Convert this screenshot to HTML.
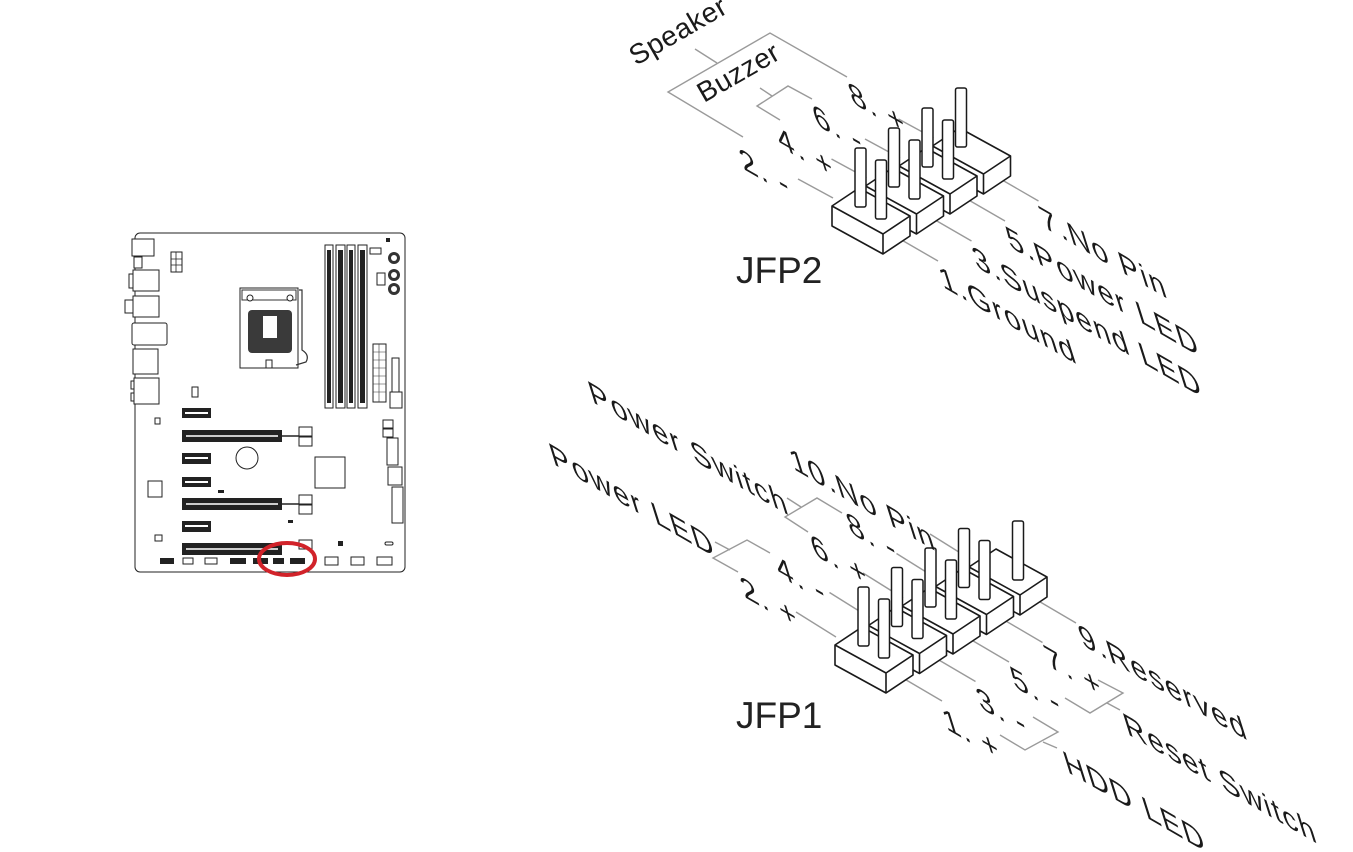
<!DOCTYPE html>
<html><head><meta charset="utf-8"><style>
html,body{margin:0;padding:0;background:#fff;}
svg{display:block;}
.t{font-family:"Liberation Sans",Arial,sans-serif;font-size:34px;letter-spacing:2px;fill:#1a1a1a;}
.s{font-family:"Liberation Sans",Arial,sans-serif;font-size:28px;letter-spacing:0.5px;fill:#1a1a1a;}
.h{font-family:"Liberation Sans",Arial,sans-serif;font-size:37px;fill:#222;}
.g{stroke:#9a9a9a;stroke-width:1.4;fill:none;}
.b{fill:#fff;stroke:#1a1a1a;stroke-width:1.6;stroke-linejoin:round;}
.i{fill:none;stroke:#1a1a1a;stroke-width:1.6;stroke-linejoin:round;}
.p{fill:#fff;stroke:#1a1a1a;stroke-width:1.5;}
.m{fill:#fff;stroke:#222;stroke-width:1;}
.k{fill:#222;}
</style></head><body>
<svg width="1353" height="852" viewBox="0 0 1353 852" xmlns="http://www.w3.org/2000/svg">
<rect x="135" y="233" width="270" height="339" rx="5" class="m" stroke-width="1.2"/>
<rect x="132" y="239" width="22" height="17" class="m"/>
<rect x="134" y="257" width="8" height="11" class="m"/>
<rect x="133" y="270" width="26" height="21" class="m"/>
<rect x="129" y="274" width="4" height="14" class="m"/>
<rect x="133" y="296" width="26" height="21" class="m"/>
<rect x="125" y="300" width="8" height="13" class="m"/>
<rect x="132" y="323" width="35" height="22" rx="2" class="m"/>
<rect x="133" y="349" width="25" height="25" class="m"/>
<rect x="134" y="378" width="25" height="26" class="m"/>
<rect x="131" y="381" width="3" height="8" class="m"/>
<rect x="131" y="393" width="3" height="8" class="m"/>
<rect x="171" y="252" width="11" height="20" class="m"/>
<path d="M171,259H182M171,265H182M176,252V272" stroke="#222" stroke-width="0.8"/>
<rect x="240" y="288" width="58" height="80" class="m" fill="#f2f2f2"/>
<rect x="242" y="290" width="54" height="10" fill="none" stroke="#333"/>
<circle cx="250" cy="298" r="3" class="m"/><circle cx="290" cy="298" r="3" class="m"/>
<rect x="248" y="310" width="44" height="43" rx="4" fill="#3a3a3a"/>
<rect x="263" y="316" width="14" height="22" fill="#fff"/>
<path d="M299,290 L302,290 L302,350 Q310,355 306,362 L296,365" fill="none" stroke="#333" stroke-width="1.2"/>
<rect x="266" y="360" width="6" height="8" class="m"/>
<rect x="325" y="245" width="8" height="163" class="m"/><rect x="327" y="250" width="4" height="153" class="k"/>
<rect x="336" y="245" width="9" height="163" class="m"/><rect x="338" y="250" width="5" height="153" class="k"/>
<rect x="347" y="245" width="8" height="163" class="m"/><rect x="349" y="250" width="4" height="153" class="k"/>
<rect x="358" y="245" width="9" height="163" class="m"/><rect x="360" y="250" width="5" height="153" class="k"/>
<rect x="370" y="248" width="11" height="6" class="m"/>
<rect x="386" y="238" width="4" height="4" class="k"/>
<circle cx="394" cy="258" r="6" fill="#333"/><circle cx="394" cy="258" r="3" fill="#fff"/>
<circle cx="394" cy="275" r="6" fill="#333"/><circle cx="394" cy="275" r="3" fill="#fff"/>
<circle cx="394" cy="289" r="6" fill="#333"/><circle cx="394" cy="289" r="3" fill="#fff"/>
<rect x="377" y="273" width="8" height="12" class="m"/>
<rect x="373" y="344" width="13" height="58" class="m"/>
<path d="M373,352H386M373,360H386M373,368H386M373,376H386M373,384H386M373,392H386M379,344V402" stroke="#333" stroke-width="0.6"/>
<rect x="392" y="358" width="7" height="34" class="m"/>
<rect x="390" y="392" width="12" height="16" class="m"/>
<rect x="192" y="387" width="6" height="10" class="m"/>
<rect x="155" y="418" width="5" height="6" class="m"/>
<rect x="182" y="408" width="29" height="10" class="k"/><rect x="185" y="412" width="23" height="2" fill="#fff"/>
<rect x="182" y="453" width="29" height="11" class="k"/><rect x="185" y="457" width="23" height="2" fill="#fff"/>
<rect x="182" y="477" width="29" height="10" class="k"/><rect x="185" y="481" width="23" height="2" fill="#fff"/>
<rect x="182" y="521" width="29" height="11" class="k"/><rect x="185" y="525" width="23" height="2" fill="#fff"/>
<rect x="182" y="430" width="100" height="12" class="k"/><rect x="186" y="435" width="92" height="2" fill="#ccc"/>
<rect x="182" y="498" width="100" height="12" class="k"/><rect x="186" y="503" width="92" height="2" fill="#ccc"/>
<rect x="182" y="543" width="100" height="12" class="k"/><rect x="186" y="548" width="92" height="2" fill="#ccc"/>
<rect x="299" y="427" width="13" height="9" class="m"/><rect x="299" y="437" width="13" height="9" class="m"/>
<rect x="299" y="495" width="13" height="9" class="m"/><rect x="299" y="505" width="13" height="9" class="m"/>
<rect x="299" y="540" width="13" height="9" class="m"/>
<path d="M282,436H299M282,504H299" stroke="#222" stroke-width="1.5"/>
<circle cx="247" cy="458" r="11" class="m"/>
<rect x="315" y="457" width="30" height="31" class="m"/>
<rect x="148" y="481" width="14" height="16" class="m"/>
<rect x="155" y="535" width="7" height="6" class="m"/>
<rect x="218" y="490" width="6" height="3" class="k"/><rect x="288" y="520" width="5" height="3" class="k"/>
<rect x="383" y="420" width="10" height="8" class="m"/><rect x="383" y="429" width="10" height="8" class="m"/>
<rect x="387" y="438" width="11" height="27" class="m"/>
<rect x="388" y="467" width="14" height="18" class="m"/>
<rect x="392" y="487" width="11" height="36" class="m"/>
<rect x="338" y="541" width="5" height="5" class="k"/>
<rect x="385" y="542" width="8" height="3" rx="1.5" class="m"/>
<rect x="160" y="558" width="14" height="6" class="k"/>
<rect x="183" y="558" width="10" height="6" class="m"/>
<rect x="205" y="558" width="12" height="6" class="m"/>
<rect x="230" y="558" width="16" height="6" class="k"/>
<rect x="253" y="558" width="15" height="6" class="k"/>
<rect x="273" y="558" width="11" height="6" class="k"/>
<rect x="290" y="558" width="15" height="6" class="k"/>
<rect x="325" y="557" width="13" height="8" class="m"/>
<rect x="351" y="557" width="13" height="8" class="m"/>
<rect x="377" y="557" width="15" height="8" class="m"/>
<ellipse cx="287" cy="559" rx="28" ry="16" fill="none" stroke="#d1232a" stroke-width="4"/>

<g class="g">
<line x1="893" y1="235" x2="938" y2="261"/>
<line x1="926.5" y1="215" x2="971.5" y2="241"/>
<line x1="960" y1="195" x2="1005" y2="221"/>
<line x1="993.5" y1="175" x2="1038.5" y2="201"/>
<line x1="798" y1="179" x2="833" y2="198"/>
<line x1="831.5" y1="159" x2="866.5" y2="178"/>
<line x1="865" y1="139" x2="900" y2="158"/>
<line x1="898.5" y1="119" x2="933.5" y2="138"/>
<path d="M847,77 L770,33 L668,92 L743,137"/>
<path d="M717,63 L695,49"/>
<path d="M812,99 L788,86 L757,106 L780,120"/>
<path d="M772,96 L760,88"/>
</g>
<path class="b" d="M932.5,146 L959.5,128 L1010.5,156 L1010.5,176 L983.5,194 L932.5,166 Z"/>
<path class="i" d="M932.5,146 L983.5,174 L1010.5,156 M983.5,174 V194"/>
<rect class="p" x="955.5" y="88" width="11" height="59" rx="2"/>
<path class="b" d="M899,166 L926,148 L977,176 L977,196 L950,214 L899,186 Z"/>
<path class="i" d="M899,166 L950,194 L977,176 M950,194 V214"/>
<rect class="p" x="922" y="108" width="11" height="59" rx="2"/>
<rect class="p" x="942.5" y="120" width="11" height="59" rx="2"/>
<path class="b" d="M865.5,186 L892.5,168 L943.5,196 L943.5,216 L916.5,234 L865.5,206 Z"/>
<path class="i" d="M865.5,186 L916.5,214 L943.5,196 M916.5,214 V234"/>
<rect class="p" x="888.5" y="128" width="11" height="59" rx="2"/>
<rect class="p" x="909" y="140" width="11" height="59" rx="2"/>
<path class="b" d="M832,206 L859,188 L910,216 L910,236 L883,254 L832,226 Z"/>
<path class="i" d="M832,206 L883,234 L910,216 M883,234 V254"/>
<rect class="p" x="855" y="148" width="11" height="59" rx="2"/>
<rect class="p" x="875.5" y="160" width="11" height="59" rx="2"/>

<text class="t" transform="matrix(0.866,0.5,0.3,0.95,943,287)">1.Ground</text>
<text class="t" transform="matrix(0.866,0.5,0.3,0.95,976.5,267)">3.Suspend LED</text>
<text class="t" transform="matrix(0.866,0.5,0.3,0.95,1010,247)">5.Power LED</text>
<text class="t" transform="matrix(0.866,0.5,0.3,0.95,1043.5,227)">7.No Pin</text>
<text class="t" transform="matrix(0.866,0.5,0.3,0.95,743.5,169)">2. -</text>
<text class="t" transform="matrix(0.866,0.5,0.3,0.95,780.5,147)">4. +</text>
<text class="t" transform="matrix(0.866,0.5,0.3,0.95,816.5,125)">6. -</text>
<text class="t" transform="matrix(0.866,0.5,0.3,0.95,852.5,103)">8. +</text>
<text class="s" transform="translate(636,66) rotate(-30)">Speaker</text>
<text class="s" transform="translate(704,103) rotate(-30)">Buzzer</text>
<text class="h" x="736" y="283">JFP2</text>

<g class="g">
<line x1="896" y1="674" x2="942" y2="701"/>
<line x1="929.5" y1="654.5" x2="975.5" y2="681.5"/>
<line x1="963" y1="635" x2="1009" y2="662"/>
<line x1="996.5" y1="615.5" x2="1042.5" y2="642.5"/>
<line x1="1030" y1="596" x2="1076" y2="623"/>
<line x1="796" y1="612" x2="836" y2="637"/>
<line x1="829.5" y1="592.5" x2="869.5" y2="617.5"/>
<line x1="863" y1="573" x2="903" y2="598"/>
<line x1="896.5" y1="553.5" x2="936.5" y2="578.5"/>
<line x1="930" y1="534" x2="970" y2="559"/>
<path d="M842,513 L817,498 L785,517 L808,532"/>
<path d="M787,498 L801,507"/>
<path d="M770,553 L747,540 L713,558 L738,572"/>
<path d="M715,542 L730,550"/>
<path d="M1098,680 L1123,693 L1090,713 L1065,698"/>
<path d="M1107,703 L1120,710"/>
<path d="M1033,717 L1058,732 L1025,750 L1000,735"/>
<path d="M1043,742 L1057,748"/>
</g>
<path class="b" d="M969,567 L996,549 L1047,577 L1047,597 L1020,615 L969,587 Z"/>
<path class="i" d="M969,567 L1020,595 L1047,577 M1020,595 V615"/>
<rect class="p" x="1012.5" y="521" width="11" height="59" rx="2"/>
<path class="b" d="M935.5,586.5 L962.5,568.5 L1013.5,596.5 L1013.5,616.5 L986.5,634.5 L935.5,606.5 Z"/>
<path class="i" d="M935.5,586.5 L986.5,614.5 L1013.5,596.5 M986.5,614.5 V634.5"/>
<rect class="p" x="958.5" y="528.5" width="11" height="59" rx="2"/>
<rect class="p" x="979" y="540.5" width="11" height="59" rx="2"/>
<path class="b" d="M902,606 L929,588 L980,616 L980,636 L953,654 L902,626 Z"/>
<path class="i" d="M902,606 L953,634 L980,616 M953,634 V654"/>
<rect class="p" x="925" y="548" width="11" height="59" rx="2"/>
<rect class="p" x="945.5" y="560" width="11" height="59" rx="2"/>
<path class="b" d="M868.5,625.5 L895.5,607.5 L946.5,635.5 L946.5,655.5 L919.5,673.5 L868.5,645.5 Z"/>
<path class="i" d="M868.5,625.5 L919.5,653.5 L946.5,635.5 M919.5,653.5 V673.5"/>
<rect class="p" x="891.5" y="567.5" width="11" height="59" rx="2"/>
<rect class="p" x="912" y="579.5" width="11" height="59" rx="2"/>
<path class="b" d="M835,645 L862,627 L913,655 L913,675 L886,693 L835,665 Z"/>
<path class="i" d="M835,645 L886,673 L913,655 M886,673 V693"/>
<rect class="p" x="858" y="587" width="11" height="59" rx="2"/>
<rect class="p" x="878.5" y="599" width="11" height="59" rx="2"/>

<text class="t" transform="matrix(0.866,0.5,0.3,0.95,946.5,729)">1. +</text>
<text class="t" transform="matrix(0.866,0.5,0.3,0.95,980.5,708)">3. -</text>
<text class="t" transform="matrix(0.866,0.5,0.3,0.95,1014.5,687)">5. -</text>
<text class="t" transform="matrix(0.866,0.5,0.3,0.95,1048.5,666)">7. +</text>
<text class="t" transform="matrix(0.866,0.5,0.3,0.95,1082.5,645)">9.Reserved</text>
<text class="t" transform="matrix(0.866,0.5,0.3,0.95,1127.5,734)">Reset Switch</text>
<text class="t" transform="matrix(0.866,0.5,0.3,0.95,1067.5,772)">HDD LED</text>
<text class="t" transform="matrix(0.866,0.5,0.3,0.95,744.5,597)">2. +</text>
<text class="t" transform="matrix(0.866,0.5,0.3,0.95,779.5,576)">4. -</text>
<text class="t" transform="matrix(0.866,0.5,0.3,0.95,814.5,555)">6. +</text>
<text class="t" transform="matrix(0.866,0.5,0.3,0.95,850.5,533)">8. -</text>
<text class="t" transform="matrix(0.866,0.5,0.3,0.95,793.5,469)">10.No Pin</text>
<text class="t" transform="matrix(0.866,0.5,0.3,0.95,592.5,402)">Power Switch</text>
<text class="t" transform="matrix(0.866,0.5,0.3,0.95,553.5,464)">Power LED</text>
<text class="h" x="736" y="728">JFP1</text>
</svg>
</body></html>
